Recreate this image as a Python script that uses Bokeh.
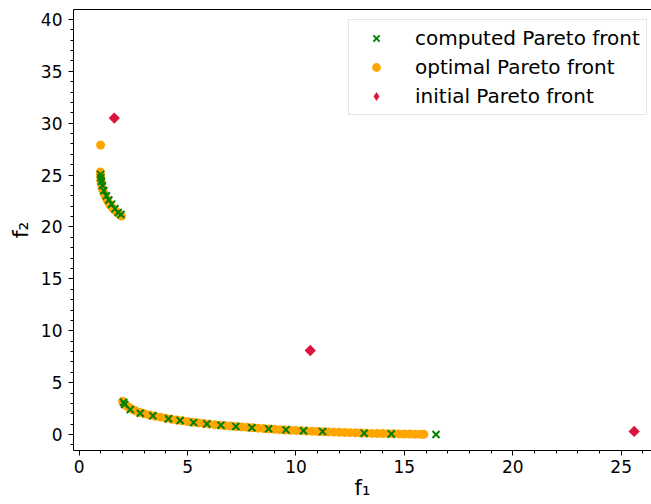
from bokeh.plotting import figure
from bokeh.models import (Range1d, LinearAxis, SingleIntervalTicker, FixedTicker,
                          Legend, LegendItem)
from bokeh.embed import file_html
from bokeh.resources import INLINE
import numpy as np

# computed Pareto front (green x)
computed_f1 = [0.99, 1.00, 1.03, 1.07, 1.14, 1.26, 1.37, 1.50, 1.65, 1.80, 1.93,
               2.05, 2.10, 2.36, 2.82, 3.40, 4.12, 4.66, 5.28, 5.89, 6.54, 7.23,
               7.97, 8.74, 9.54, 10.35, 11.23, 13.15, 14.40, 16.46]
computed_f2 = [25.07, 24.75, 24.40, 24.00, 23.50, 23.00, 22.60, 22.20, 21.75, 21.40, 21.20,
               3.10, 2.90, 2.40, 2.05, 1.80, 1.52, 1.35, 1.15, 1.02, 0.90, 0.78,
               0.65, 0.55, 0.45, 0.36, 0.28, 0.13, 0.06, 0.00]

# optimal Pareto front (orange dots)
optimal_f1 = [0.99,
              0.98, 0.99, 1.00, 1.02, 1.05, 1.09, 1.14, 1.20, 1.27, 1.35, 1.44, 1.54,
              1.65, 1.76, 1.87, 1.95,
              2.00, 2.05, 2.10, 2.20, 2.30, 2.45, 2.60, 2.80, 3.00, 3.25, 3.50, 3.75,
              4.00, 4.25, 4.50, 4.75, 5.00, 5.25, 5.50, 5.75, 6.00, 6.25, 6.50, 6.75,
              7.00, 7.25, 7.50, 7.75, 8.00, 8.25, 8.50, 8.75, 9.00, 9.25, 9.50, 9.75,
              10.00, 10.25, 10.50, 10.75, 11.00, 11.25, 11.50, 11.75, 12.00, 12.25,
              12.50, 12.75, 13.00, 13.25, 13.50, 13.75, 14.00, 14.25, 14.50, 14.75,
              15.00, 15.25, 15.50, 15.75, 15.90]
optimal_f2 = [27.90,
              25.30, 24.90, 24.50, 24.20, 23.90, 23.60, 23.30, 23.00, 22.70, 22.40, 22.10, 21.85,
              21.60, 21.40, 21.20, 21.05,
              3.20, 3.05, 2.92, 2.75, 2.60, 2.42, 2.28, 2.13, 2.00, 1.88, 1.77, 1.67,
              1.57, 1.48, 1.40, 1.32, 1.25, 1.18, 1.12, 1.06, 1.00, 0.95, 0.90, 0.85,
              0.81, 0.77, 0.73, 0.69, 0.65, 0.61, 0.57, 0.54, 0.50, 0.47, 0.44, 0.41,
              0.38, 0.36, 0.33, 0.31, 0.29, 0.27, 0.25, 0.23, 0.21, 0.19,
              0.18, 0.16, 0.14, 0.13, 0.11, 0.10, 0.09, 0.08, 0.07, 0.06,
              0.05, 0.04, 0.03, 0.02, 0.02]

# initial Pareto front (red diamonds)
initial_f1 = [1.62, 10.66, 25.60]
initial_f2 = [30.50, 8.10, 0.30]

x_ticks_interval = 5
y_ticks_interval = 5

p = figure(width=651, height=504, output_backend="svg", toolbar_location=None,
           x_range=Range1d(-0.26, 26.40), y_range=Range1d(-1.54, 40.96),
           x_axis_location=None, y_axis_location=None,
           min_border_left=73, min_border_right=0, min_border_top=9,
           min_border_bottom=54)
p.grid.visible = False
p.outline_line_color = None
p.background_fill_color = "white"
p.border_fill_color = "white"


def style(ax, label_size="17px"):
    ax.axis_line_color = "black"
    ax.axis_line_width = 1
    ax.major_tick_out = 5
    ax.major_tick_in = 0
    ax.minor_tick_out = 3
    ax.minor_tick_in = 0
    ax.major_tick_line_color = "black"
    ax.minor_tick_line_color = "black"
    ax.major_label_text_font = "DejaVu Sans"
    ax.major_label_text_font_size = label_size
    ax.major_label_text_color = "black"
    ax.major_label_standoff = 6
    ax.axis_label_text_font = "DejaVu Sans"
    ax.axis_label_text_font_size = "22px"
    ax.axis_label_text_font_style = "normal"
    ax.axis_label_text_color = "black"


xaxis = LinearAxis(ticker=SingleIntervalTicker(interval=x_ticks_interval, num_minor_ticks=5),
                   axis_label="f₁")
style(xaxis)
xaxis.axis_label_text_font_size = "21px"
xaxis.major_label_standoff = 4
xaxis.axis_label_standoff = 0
p.add_layout(xaxis, "below")

yaxis = LinearAxis(ticker=SingleIntervalTicker(interval=y_ticks_interval, num_minor_ticks=5),
                   axis_label="f₂")
style(yaxis)
yaxis.axis_label_standoff = 5
p.add_layout(yaxis, "left")

top = LinearAxis(ticker=FixedTicker(ticks=[], minor_ticks=[]))
top.axis_line_color = "black"
top.major_tick_line_color = None
top.minor_tick_line_color = None
top.major_label_text_font_size = "0px"
top.major_label_standoff = 0
p.add_layout(top, "above")

r_opt = p.scatter(optimal_f1, optimal_f2, marker="circle", size=9,
                  fill_color="orange", line_color=None)
r_comp = p.scatter(computed_f1, computed_f2, marker="x", size=10,
                   line_color="green", line_width=2)
r_init = p.scatter(initial_f1, initial_f2, marker="square", size=8, angle=np.pi / 4,
                   fill_color="crimson", line_color=None)
# legend sample for the diamonds (a single empty NaN point, draws nothing on the plot)
r_init_key = p.scatter([np.nan], [np.nan], marker="diamond", size=13,
                       fill_color="crimson", line_color=None)

legend = Legend(items=[LegendItem(label="computed Pareto front", renderers=[r_comp]),
                       LegendItem(label="optimal Pareto front", renderers=[r_opt]),
                       LegendItem(label="initial Pareto front", renderers=[r_init_key])],
                location=(275, 335), margin=0, padding=6, spacing=5,
                glyph_width=42, glyph_height=22, label_standoff=18,
                label_text_font="DejaVu Sans", label_text_font_size="20px",
                label_text_color="black",
                border_line_color="#cccccc", border_line_width=1,
                background_fill_color="white", background_fill_alpha=0.8)
p.add_layout(legend)

open("out.html", "w").write(file_html(p, INLINE))
